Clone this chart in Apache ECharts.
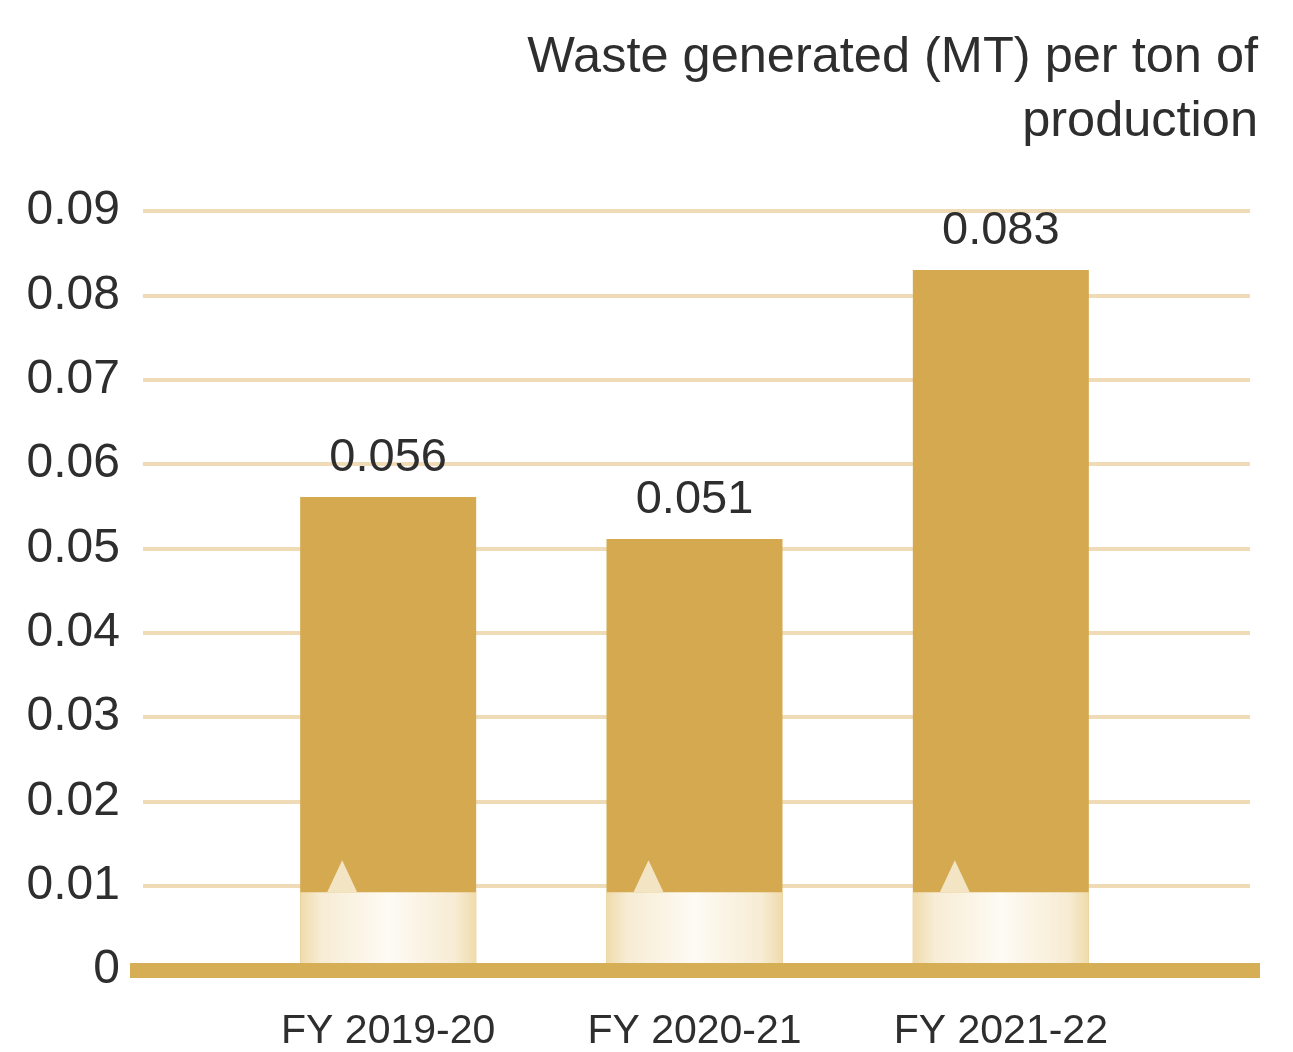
<!DOCTYPE html>
<html>
<head>
<meta charset="utf-8">
<script src="https://cdn.jsdelivr.net/npm/echarts@6/dist/echarts.min.js"></script>
<style>
  html, body { margin: 0; padding: 0; background: #ffffff; }
  #chart { width: 1293px; height: 1052px; }
</style>
</head>
<body>
<div id="chart"></div>
<script>
// Waste generated per ton of production, by financial year
const categories = ['FY 2019-20', 'FY 2020-21', 'FY 2021-22'];
const wastePerTon = [0.056, 0.051, 0.083];
// Height of the pale footer band painted at the base of every bar
const footerLevel = [0.009, 0.009, 0.009];
const yTicks = { min: 0, max: 0.09, interval: 0.01 };

const FONT = '"Liberation Sans", Arial, sans-serif';
const TEXT = '#2e2e2e';
const GOLD = '#d4a94f';

const chart = echarts.init(document.getElementById('chart'), null, { renderer: 'canvas' });

const plotTop = 211, plotBottom = 82;

chart.setOption({
  backgroundColor: '#ffffff',
  animation: false,
  title: {
    text: 'Waste generated (MT) per ton of\nproduction',
    left: 1258,
    top: 26,
    padding: 0,
    textAlign: 'right',
    textStyle: { fontFamily: FONT, fontSize: 50.5, fontWeight: 'normal', color: TEXT, lineHeight: 64 }
  },
  grid: [
    // gridlines and tick labels
    { left: 143, right: 43, top: plotTop, bottom: plotBottom },
    // bars
    { left: 235, right: 139, top: plotTop, bottom: plotBottom },
    // heavy baseline
    { left: 130, right: 33, top: plotTop, bottom: plotBottom }
  ],
  xAxis: [
    { gridIndex: 0, type: 'category', data: categories, show: false },
    {
      gridIndex: 1, type: 'category', data: categories,
      axisLine: { show: false }, axisTick: { show: false },
      axisLabel: { fontFamily: FONT, fontSize: 41, color: TEXT, margin: 43 }
    },
    {
      gridIndex: 2, type: 'category', data: categories, z: 10,
      axisLine: { show: true, lineStyle: { color: '#d6ae56', width: 15, cap: 'butt' } },
      axisTick: { show: false }, axisLabel: { show: false }
    }
  ],
  yAxis: [
    {
      gridIndex: 0, type: 'value', min: yTicks.min, max: yTicks.max, interval: yTicks.interval,
      axisLine: { show: false }, axisTick: { show: false },
      splitLine: { lineStyle: { color: '#efdcb7', width: 4 } },
      axisLabel: { fontFamily: FONT, fontSize: 48, color: TEXT, margin: 23 }
    },
    { gridIndex: 1, type: 'value', min: yTicks.min, max: yTicks.max, interval: yTicks.interval, show: false, splitLine: { show: false } },
    { gridIndex: 2, type: 'value', min: yTicks.min, max: yTicks.max, interval: yTicks.interval, show: false, splitLine: { show: false } }
  ],
  series: [
    {
      type: 'bar', xAxisIndex: 1, yAxisIndex: 1,
      data: wastePerTon, barWidth: 176,
      itemStyle: { color: GOLD },
      label: {
        show: true, position: 'top', distance: 15,
        fontFamily: FONT, fontSize: 47, color: TEXT,
        formatter: p => p.value.toFixed(3)
      }
    },
    {
      type: 'bar', xAxisIndex: 1, yAxisIndex: 1,
      data: footerLevel, barWidth: 176, barGap: '-100%',
      silent: true,
      itemStyle: {
        color: {
          type: 'linear', x: 0, y: 0, x2: 1, y2: 0,
          colorStops: [
            { offset: 0, color: '#efdbab' },
            { offset: 0.12, color: '#f7ecd4' },
            { offset: 0.5, color: '#fefbf4' },
            { offset: 0.88, color: '#f7ecd4' },
            { offset: 1, color: '#efdbab' }
          ]
        }
      }
    },
    {
      type: 'pictorialBar', xAxisIndex: 1, yAxisIndex: 1,
      data: footerLevel, silent: true,
      symbol: 'triangle', symbolSize: [30, 32],
      symbolPosition: 'end', symbolOffset: [-46, '-100%'],
      itemStyle: { color: '#f3e5c4' },
      z: 3
    }
  ]
});
</script>
</body>
</html>
